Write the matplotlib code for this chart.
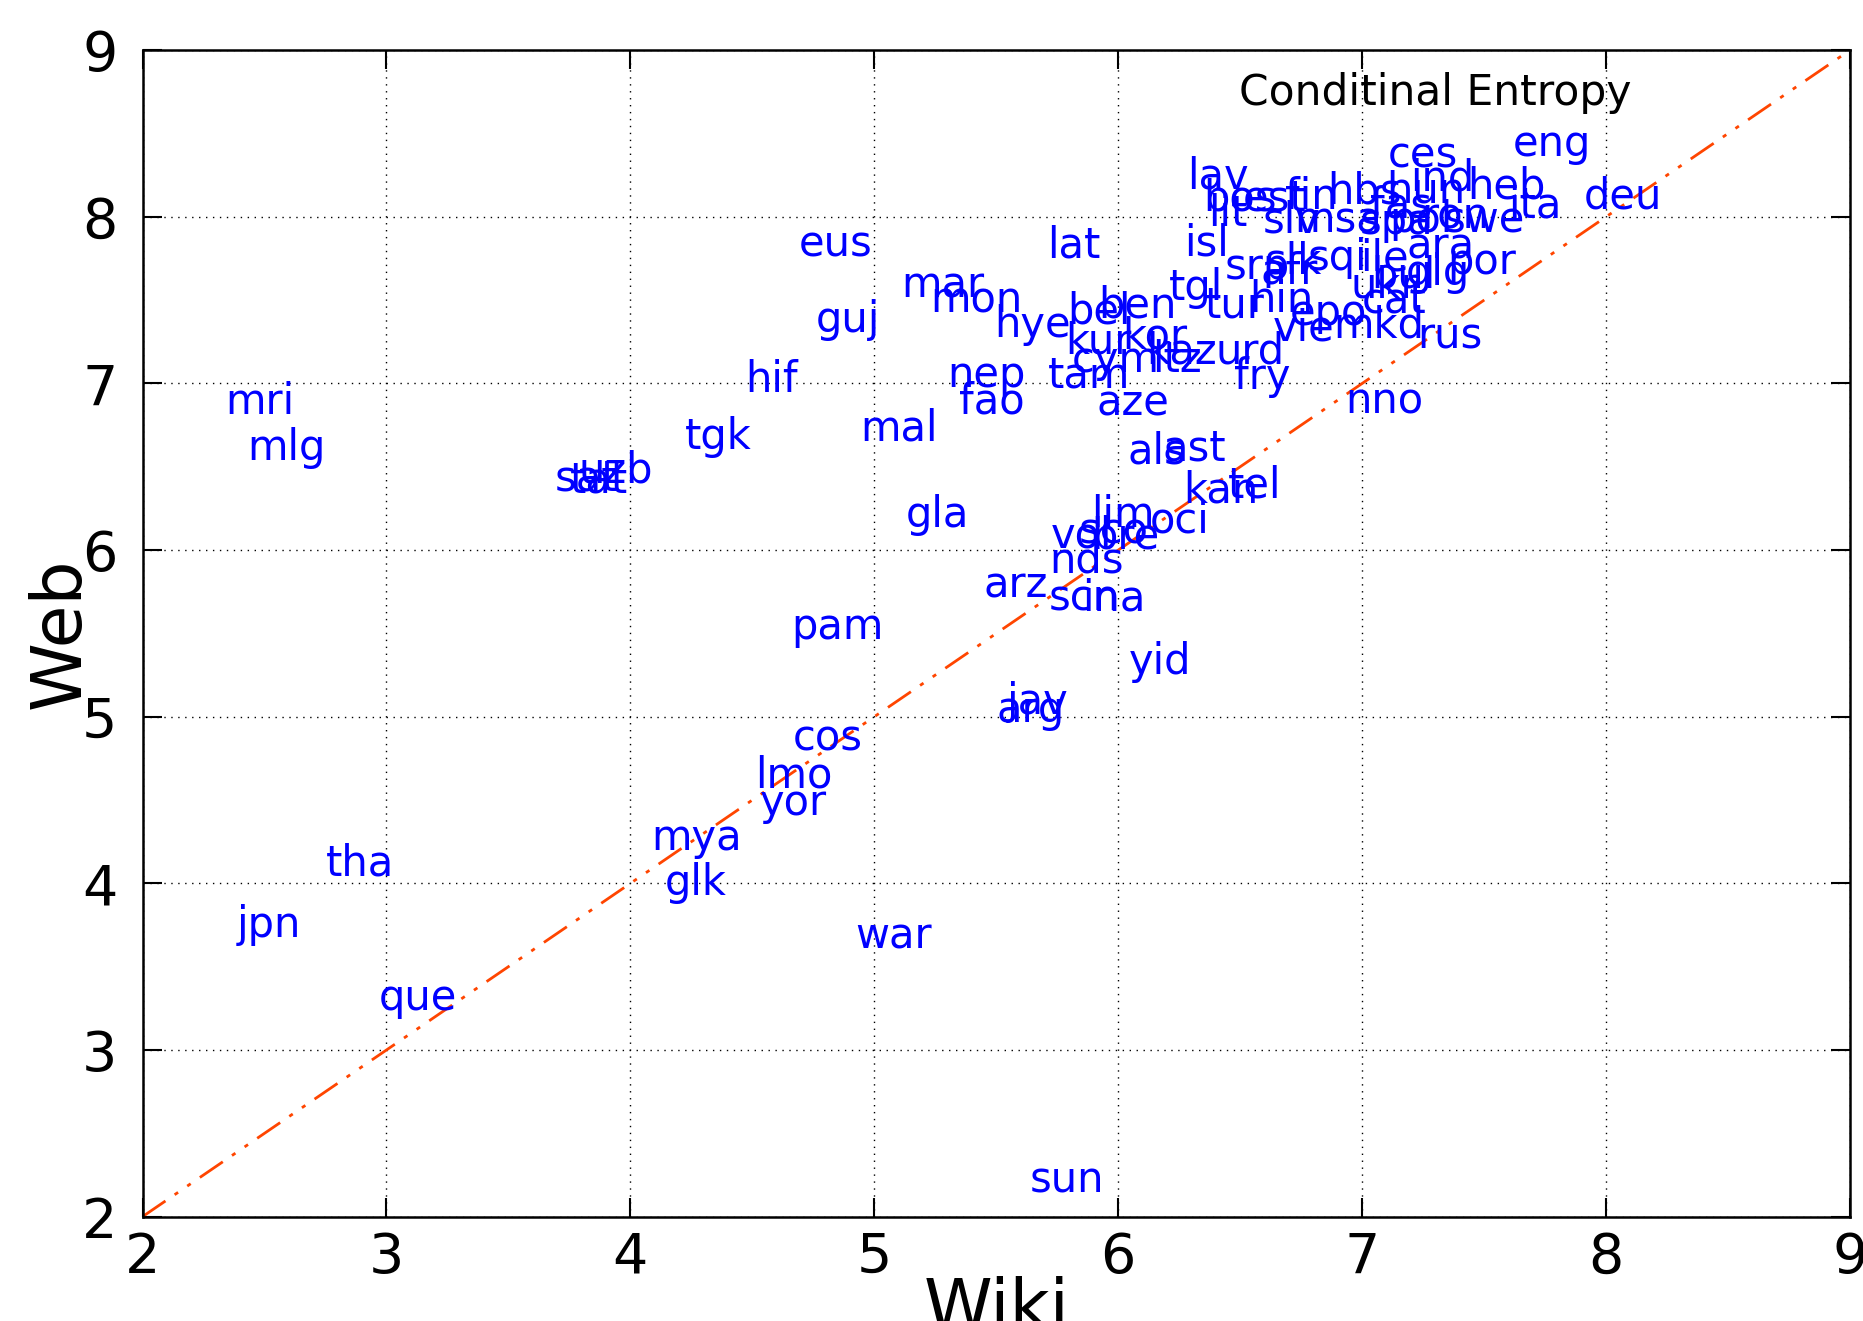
import matplotlib
matplotlib.use("Agg")
import matplotlib.pyplot as plt

# language codes with (wiki, web) conditional entropy
langs = ["ces", "eng", "deu", "lav", "bos", "lit", "est", "fin", "hbs", "slv",
         "msa", "ind", "hun", "heb", "ita", "fas", "pol", "ron", "swe", "spa",
         "ara", "por", "glg", "bul", "ile", "sqi", "srp", "slk", "afr", "ukr",
         "cat", "isl", "tgl", "tur", "hin", "epo", "vie", "mkd", "rus", "nno",
         "fry", "urd", "kaz", "ltz", "cym", "kor", "kur", "bel", "ben", "tam",
         "aze", "lat", "hye", "nep", "fao", "mal", "mon", "mar", "eus", "guj",
         "hif", "tgk", "mri", "mlg", "sat", "tat", "uzb", "als", "ast", "kan",
         "tel", "lim", "oci", "vol", "sco", "bre", "nds", "arz", "scn", "ina",
         "yid", "jav", "arg", "pam", "gla", "cos", "lmo", "yor", "mya", "glk",
         "tha", "jpn", "que", "war", "sun"]
wiki = [7.25, 7.78, 8.07, 6.41, 6.50, 6.45, 6.64, 6.79, 7.01, 6.71,
        6.90, 7.33, 7.26, 7.59, 7.71, 7.16, 7.24, 7.38, 7.50, 7.14,
        7.32, 7.49, 7.31, 7.17, 7.09, 6.90, 6.57, 6.72, 6.70, 7.09,
        7.13, 6.36, 6.32, 6.48, 6.67, 6.86, 6.76, 7.07, 7.36, 7.09,
        6.59, 6.54, 6.26, 6.24, 5.99, 6.15, 5.92, 5.92, 6.08, 5.88,
        6.06, 5.82, 5.65, 5.46, 5.48, 5.10, 5.42, 5.28, 4.84, 4.89,
        4.58, 4.36, 2.48, 2.59, 3.82, 3.87, 3.94, 6.16, 6.31, 6.42,
        6.56, 6.02, 6.25, 5.85, 5.98, 6.03, 5.87, 5.58, 5.86, 5.98,
        6.17, 5.67, 5.64, 4.85, 5.26, 4.81, 4.67, 4.67, 4.27, 4.27,
        2.89, 2.52, 3.13, 5.08, 5.79]
web = [8.37, 8.44, 8.12, 8.24, 8.11, 8.02, 8.11, 8.12, 8.15, 7.98,
       7.98, 8.23, 8.16, 8.18, 8.07, 8.07, 7.98, 8.00, 7.98, 7.97,
       7.82, 7.73, 7.66, 7.65, 7.75, 7.75, 7.70, 7.73, 7.67, 7.59,
       7.50, 7.84, 7.57, 7.47, 7.50, 7.42, 7.33, 7.35, 7.29, 6.89,
       7.04, 7.19, 7.19, 7.14, 7.14, 7.28, 7.25, 7.43, 7.47, 7.05,
       6.88, 7.83, 7.35, 7.05, 6.89, 6.73, 7.50, 7.59, 7.84, 7.38,
       7.02, 6.68, 6.89, 6.61, 6.43, 6.42, 6.48, 6.59, 6.61, 6.36,
       6.39, 6.21, 6.18, 6.09, 6.11, 6.08, 5.94, 5.79, 5.71, 5.71,
       5.33, 5.09, 5.04, 5.54, 6.21, 4.87, 4.65, 4.48, 4.27, 4.00,
       4.12, 3.75, 3.31, 3.68, 2.22]

ticks = [2, 3, 4, 5, 6, 7, 8, 9]

fig = plt.figure(figsize=(18.63, 13.21), dpi=100)
ax = fig.add_axes([0.0765, 0.079, 0.9165, 0.883])

ax.plot([2, 9], [2, 9], color="#ff4500", lw=2, dashes=(10, 4, 1.5, 4, 1.5, 4))

for name, x, y in zip(langs, wiki, web):
    ax.text(x, y, name, color="#0000ff", fontsize=30, ha="center", va="center")

ax.set_xlim(2, 9)
ax.set_ylim(2, 9)
ax.set_xticks(ticks)
ax.set_yticks(ticks)
ax.grid(True, color="black", linestyle=(0, (1, 4)), lw=1)
ax.tick_params(direction="in", length=14, width=1.5, top=True, right=True,
               labelsize=40)
ax.tick_params(axis="y", pad=18)
ax.tick_params(axis="x", pad=10)
for s in ax.spines.values():
    s.set_linewidth(1.8)

ax.set_xlabel("Wiki", fontsize=50, labelpad=-6)
ax.set_ylabel("Web", fontsize=50, labelpad=-8)
ax.text(0.757, 0.963, "Conditinal Entropy", transform=ax.transAxes,
        fontsize=30.5, ha="center", va="center")

fig.savefig("out.png", dpi=100)
